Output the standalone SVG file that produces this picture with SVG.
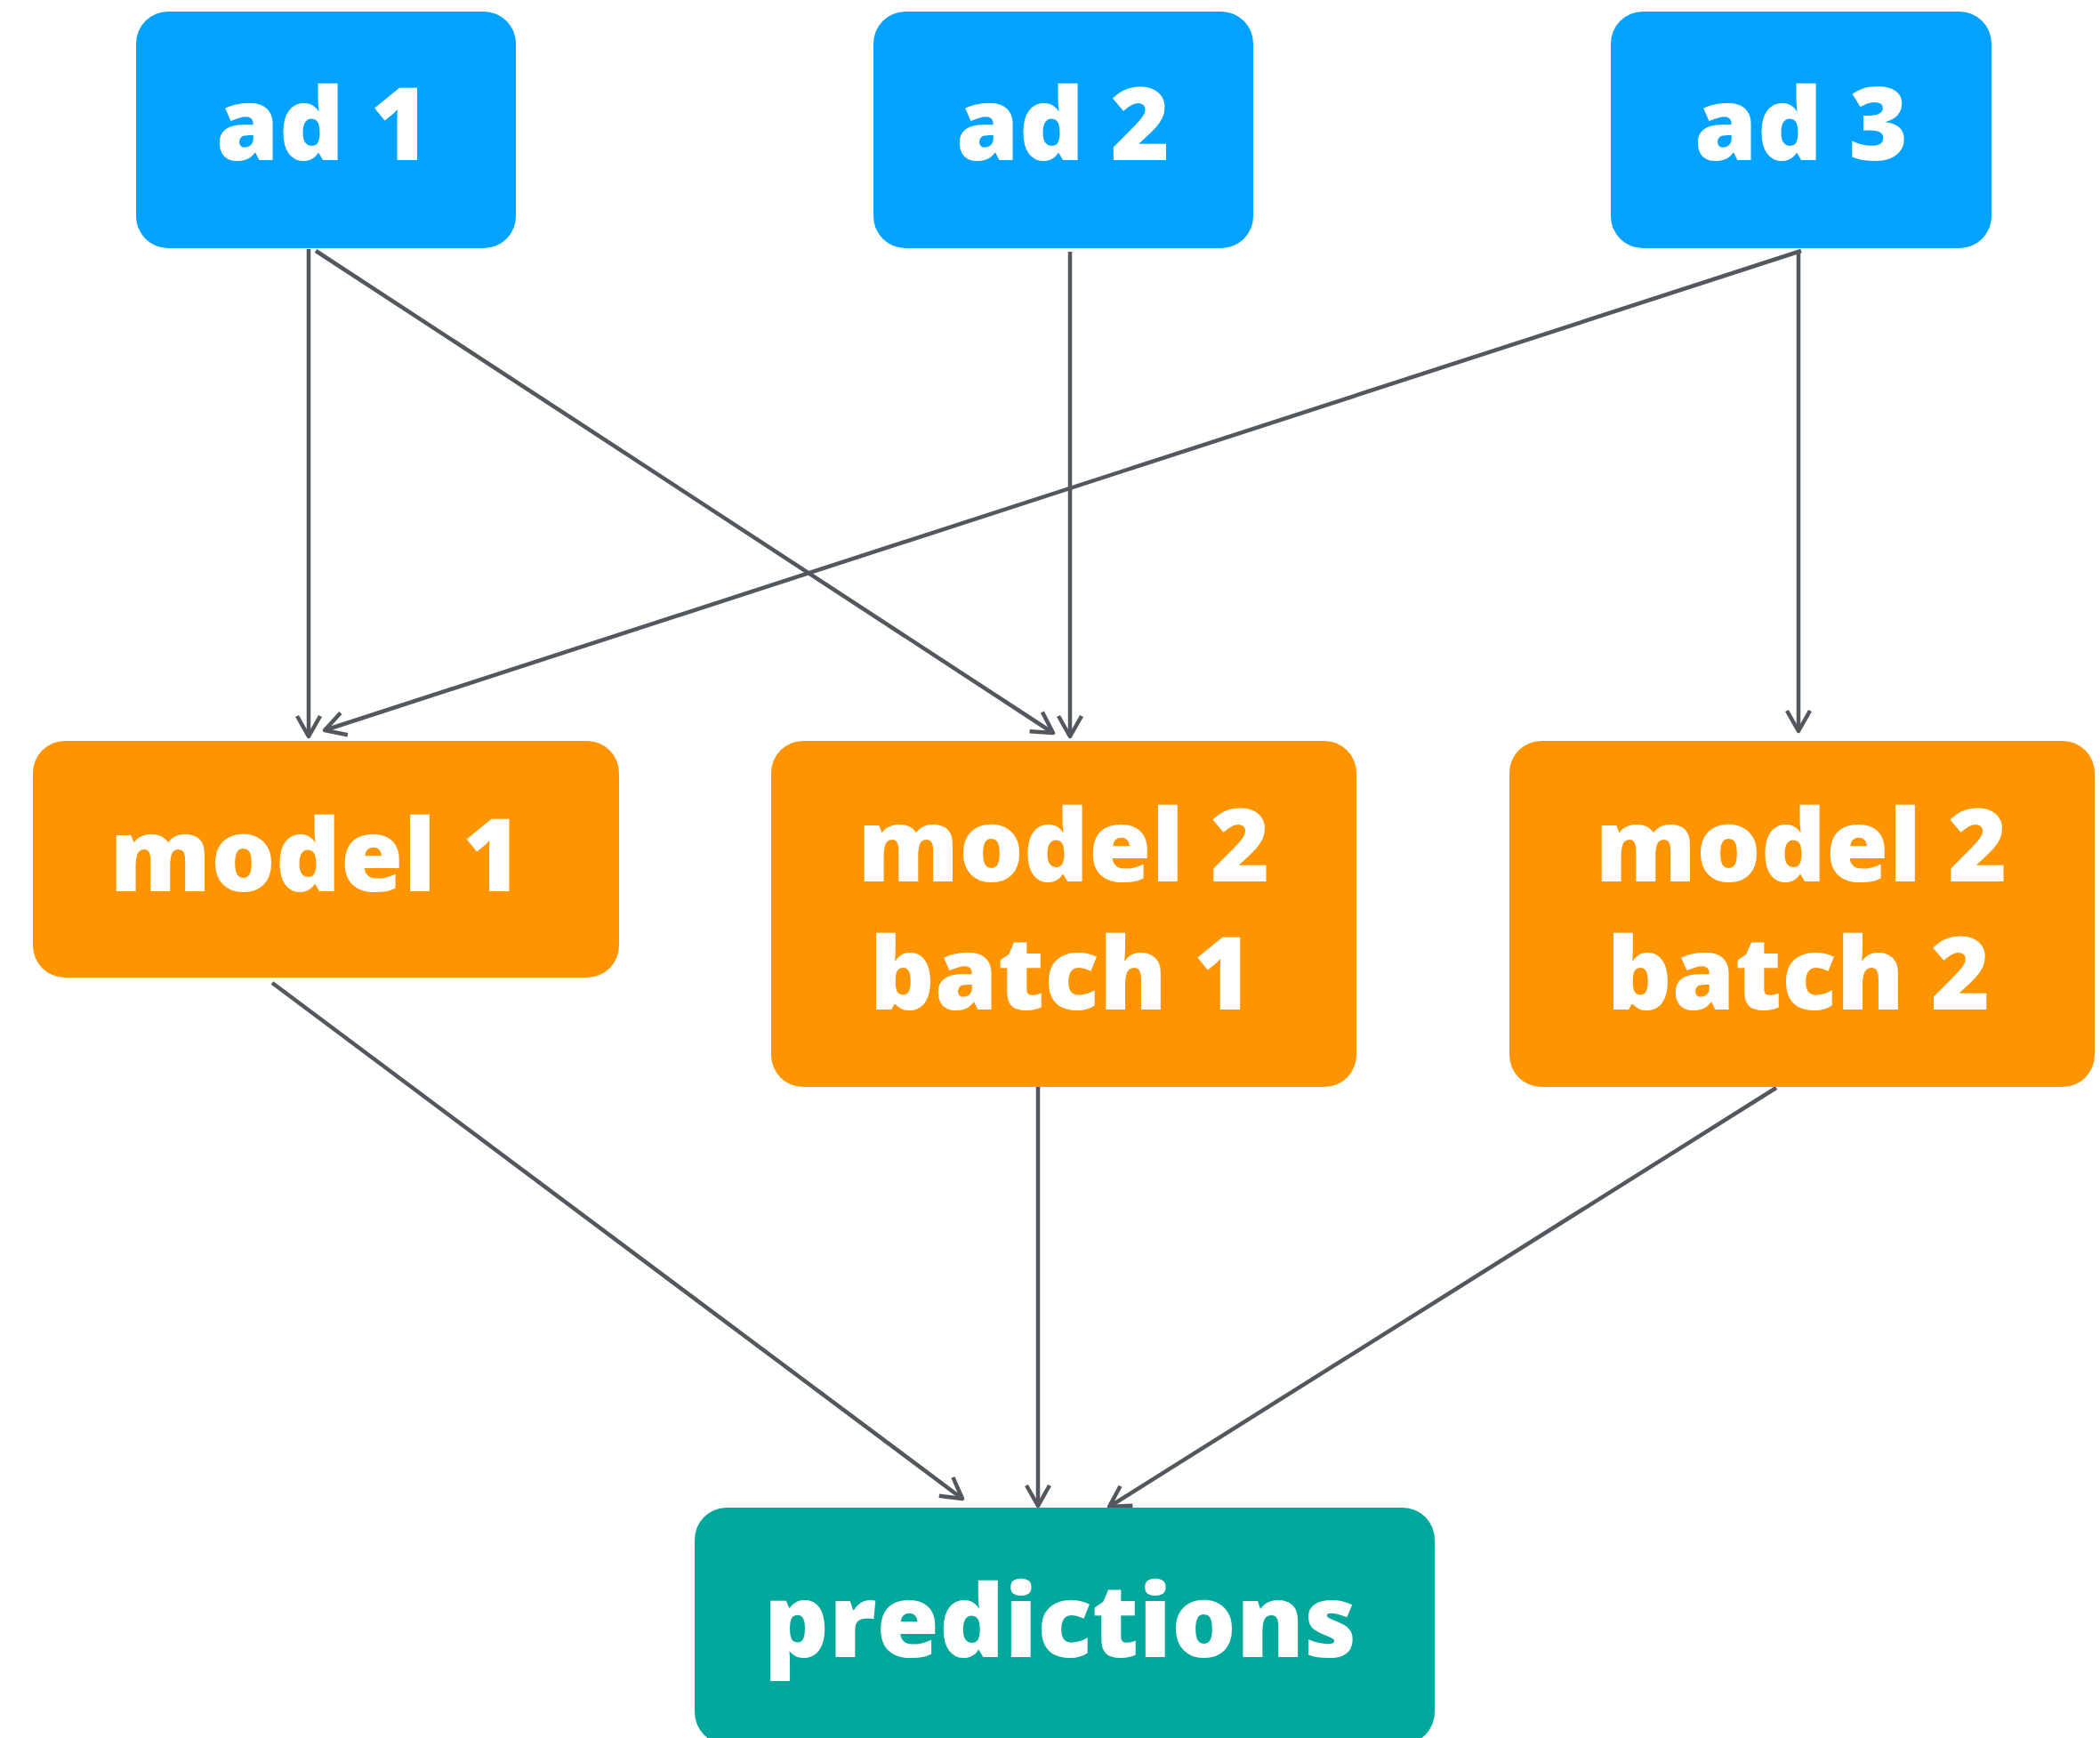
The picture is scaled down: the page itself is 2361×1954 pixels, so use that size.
<svg xmlns="http://www.w3.org/2000/svg" width="2361" height="1954" viewBox="0 0 2361 1954">
<style>
.lbl{font-family:"Open Sans","Noto Sans","Liberation Sans",sans-serif;font-weight:800;font-size:114px;fill:#ffffff;text-anchor:middle}
.ad{fill:#02A3FE}
.model{fill:#FE9400}
.pred{fill:#02A89C}
.edge{fill:none;stroke:#53575E;stroke-width:4.5;marker-end:url(#arr)}
</style>
<defs>
<marker id="arr" markerUnits="userSpaceOnUse" markerWidth="40" markerHeight="40" viewBox="-30 -20 40 40" refX="0" refY="0" orient="auto">
<path d="M -23 -13 L 0 0 L -23 13" fill="none" stroke="#53575E" stroke-width="4.5" stroke-linejoin="round" stroke-linecap="butt"/>
</marker>
</defs>
<rect width="2361" height="1954" fill="#ffffff"/>
<g id="connectors">
<line class="edge" x1="347" y1="280" x2="347" y2="828"/>
<line class="edge" x1="355" y1="282" x2="1184" y2="824"/>
<line class="edge" x1="1203" y1="283" x2="1203" y2="828"/>
<line class="edge" x1="2025" y1="282" x2="365" y2="821"/>
<line class="edge" x1="2022" y1="282" x2="2022" y2="822"/>
<line class="edge" x1="306" y1="1105" x2="1082" y2="1685"/>
<line class="edge" x1="1167" y1="1222" x2="1167" y2="1693"/>
<line class="edge" x1="1997" y1="1223" x2="1247" y2="1694"/>
</g>
<g id="ad1">
<rect class="ad" x="153" y="13" width="427" height="266" rx="36"/>
<text class="lbl" x="363" y="180">ad 1</text>
</g>
<g id="ad2">
<rect class="ad" x="982" y="13" width="427" height="266" rx="36"/>
<text class="lbl" x="1195" y="180">ad 2</text>
</g>
<g id="ad3">
<rect class="ad" x="1811" y="13" width="428" height="266" rx="36"/>
<text class="lbl" x="2025" y="180">ad 3</text>
</g>
<g id="model1">
<rect class="model" x="37" y="833" width="659" height="266" rx="36"/>
<text class="lbl" x="355" y="1002">model 1</text>
</g>
<g id="model2batch1">
<rect class="model" x="867" y="833" width="658" height="389" rx="36"/>
<text class="lbl" x="1196" y="991">model 2</text>
<text class="lbl" x="1193" y="1135">batch 1</text>
</g>
<g id="model2batch2">
<rect class="model" x="1697" y="833" width="658" height="389" rx="36"/>
<text class="lbl" x="2025" y="991">model 2</text>
<text class="lbl" x="2022" y="1135">batch 2</text>
</g>
<g id="predictions">
<rect class="pred" x="781" y="1695" width="832" height="266" rx="36"/>
<text class="lbl" x="1192" y="1863">predictions</text>
</g>
</svg>
